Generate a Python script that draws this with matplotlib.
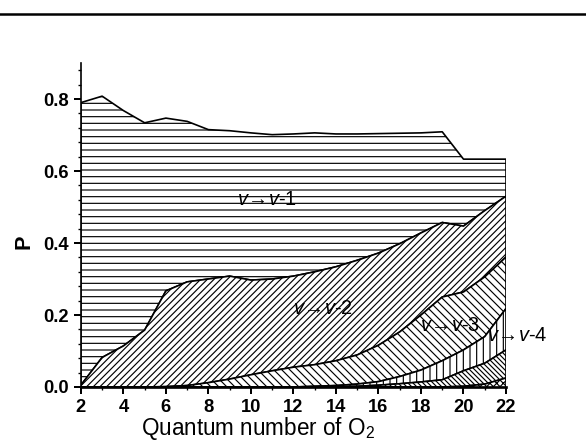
import numpy as np
import matplotlib.pyplot as plt
from matplotlib.lines import Line2D
from matplotlib.ticker import MultipleLocator

plt.rcParams['font.family'] = ['Liberation Sans', 'DejaVu Sans']
plt.rcParams['mathtext.fontset'] = 'custom'
plt.rcParams['mathtext.rm'] = 'Liberation Sans'
plt.rcParams['mathtext.it'] = 'Liberation Sans:italic'
plt.rcParams['hatch.linewidth'] = 0.7

# quantum number of O2
x = np.arange(2, 23)

# cumulative tops of each channel region
top_v1 = [0.790, 0.808, 0.768, 0.734, 0.747, 0.738, 0.715, 0.712, 0.706, 0.701, 0.703,
          0.706, 0.703, 0.703, 0.704, 0.705, 0.706, 0.709, 0.633, 0.633, 0.633]
top_v2 = [0.005, 0.082, 0.114, 0.158, 0.267, 0.292, 0.300, 0.308, 0.297, 0.300, 0.308,
          0.320, 0.334, 0.352, 0.372, 0.398, 0.428, 0.457, 0.447, 0.490, 0.530]
top_v3 = [0.0, 0.0, 0.0, 0.0, 0.001, 0.004, 0.012, 0.022, 0.034, 0.045, 0.055,
          0.062, 0.073, 0.089, 0.116, 0.153, 0.200, 0.250, 0.264, 0.306, 0.361]
top_v4 = [0.0, 0.0, 0.0, 0.0, 0.0, 0.0, 0.0, 0.0, 0.0, 0.0, 0.0,
          0.002, 0.004, 0.008, 0.015, 0.029, 0.047, 0.073, 0.103, 0.140, 0.218]
top_v5 = [0.0, 0.0, 0.0, 0.0, 0.0, 0.0, 0.0, 0.0, 0.0, 0.0, 0.0,
          0.0, 0.0, 0.002, 0.005, 0.009, 0.014, 0.020, 0.045, 0.066, 0.103]
top_v6 = [0.0, 0.0, 0.0, 0.0, 0.0, 0.0, 0.0, 0.0, 0.0, 0.0, 0.0,
          0.0, 0.0, 0.0, 0.0, 0.0, 0.0, 0.0, 0.002, 0.008, 0.025]

tops = [top_v1, top_v2, top_v3, top_v4, top_v5, top_v6]
hatches = ['---', '//////', '\\\\\\\\\\', '|||', '\\\\\\\\\\\\\\\\', 'xxxxxx']

labels = [r'$v\!\rightarrow\! v$-1', r'$v\!\rightarrow\! v$-2',
          r'$v\!\rightarrow\! v$-3', r'$v\!\rightarrow\! v$-4']
label_pos = [(9.35, 0.52), (12.0, 0.218), (17.95, 0.172), (21.1, 0.144)]

fig = plt.figure(figsize=(586 / 120, 444 / 120), dpi=120)
ax = fig.add_axes([0.138, 0.1284, 0.7255, 0.7296])

for i in range(len(tops)):
    low = tops[i + 1] if i + 1 < len(tops) else np.zeros(len(x))
    ax.fill_between(x, low, tops[i], facecolor='white', edgecolor='black',
                    hatch=hatches[i], linewidth=1.0, zorder=2 + i)

for lab, (lx, ly) in zip(labels, label_pos):
    ax.text(lx, ly, lab, fontsize=12, ha='left', va='center', zorder=10,
            clip_on=False)

ax.set_xlim(2, 22)
ax.set_ylim(0, 0.9)
ax.xaxis.set_major_locator(MultipleLocator(2))
ax.xaxis.set_minor_locator(MultipleLocator(1))
ax.yaxis.set_minor_locator(MultipleLocator(0.04))
ax.set_yticks([0.0, 0.2, 0.4, 0.6, 0.8])
ax.xaxis.set_major_formatter(plt.FuncFormatter(lambda v, p: f'{v:.0f}'))
ax.yaxis.set_major_formatter(plt.FuncFormatter(lambda v, p: f'{v:.1f}'))
ax.tick_params(which='major', direction='out', length=4, width=1.2, labelsize=11, pad=3)
ax.tick_params(which='minor', direction='out', length=2, width=0.8)
for t in ax.get_xticklabels() + ax.get_yticklabels():
    t.set_fontweight('bold')

ax.spines['top'].set_visible(False)
ax.spines['right'].set_visible(False)
ax.spines['left'].set_linewidth(1.0)
ax.spines['bottom'].set_linewidth(1.6)

ax.set_xlabel('Quantum number of O$_2$', fontsize=13.5)
ax.xaxis.set_label_coords(0.416, -0.087)
ax.set_ylabel('P', fontsize=13, fontweight='bold')
ax.yaxis.set_label_coords(-0.108, 0.449)

# rule across the top of the page
fig.add_artist(Line2D([0, 1], [1 - 14 / 444, 1 - 14 / 444], color='black', linewidth=1.5))

fig.savefig('out.png', dpi=120)
